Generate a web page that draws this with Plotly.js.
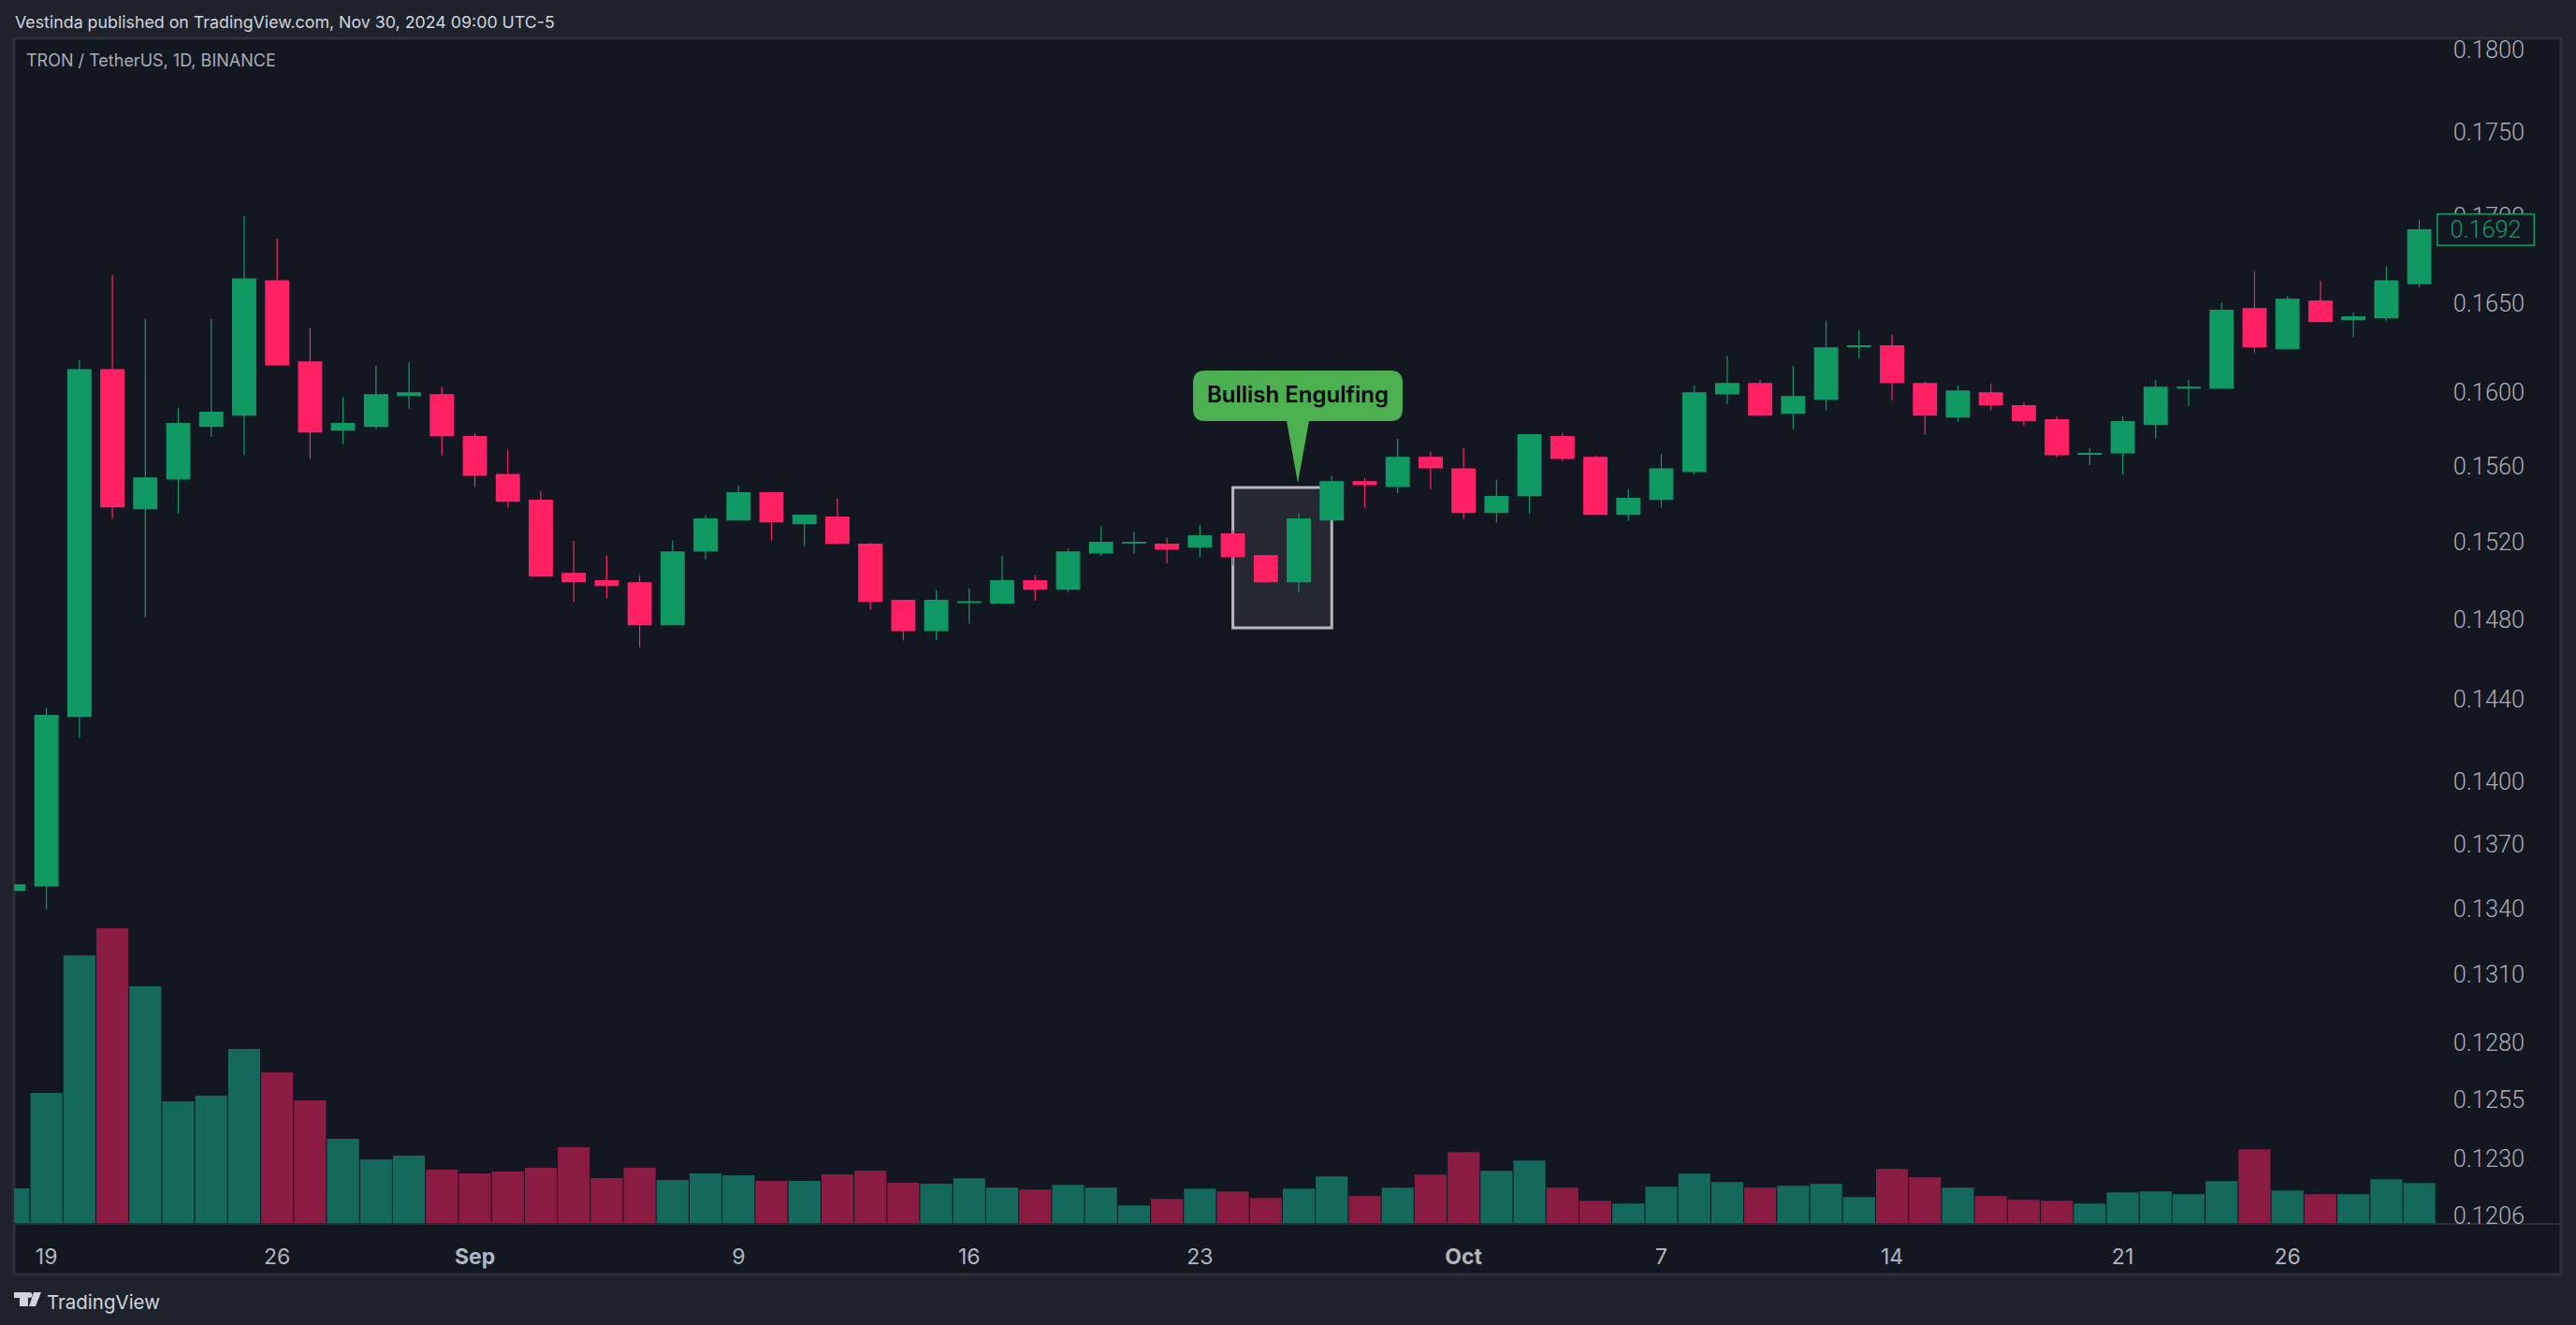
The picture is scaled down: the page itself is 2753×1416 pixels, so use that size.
<!DOCTYPE html>
<html><head><meta charset="utf-8">
<script src="https://cdn.plot.ly/plotly-3.0.1.min.js"></script>
<style>html,body{margin:0;padding:0;background:#1e222d;overflow:hidden}#c{width:2753px;height:1416px}</style>
</head><body><div id="c"></div>
<script>
const dates=['2024-08-18','2024-08-19','2024-08-20','2024-08-21','2024-08-22','2024-08-23','2024-08-24','2024-08-25','2024-08-26','2024-08-27','2024-08-28','2024-08-29','2024-08-30','2024-08-31','2024-09-01','2024-09-02','2024-09-03','2024-09-04','2024-09-05','2024-09-06','2024-09-07','2024-09-08','2024-09-09','2024-09-10','2024-09-11','2024-09-12','2024-09-13','2024-09-14','2024-09-15','2024-09-16','2024-09-17','2024-09-18','2024-09-19','2024-09-20','2024-09-21','2024-09-22','2024-09-23','2024-09-24','2024-09-25','2024-09-26','2024-09-27','2024-09-28','2024-09-29','2024-09-30','2024-10-01','2024-10-02','2024-10-03','2024-10-04','2024-10-05','2024-10-06','2024-10-07','2024-10-08','2024-10-09','2024-10-10','2024-10-11','2024-10-12','2024-10-13','2024-10-14','2024-10-15','2024-10-16','2024-10-17','2024-10-18','2024-10-19','2024-10-20','2024-10-21','2024-10-22','2024-10-23','2024-10-24','2024-10-25','2024-10-26','2024-10-27','2024-10-28','2024-10-29','2024-10-30'];
const opens=[.13484,.13506,.14315,.16126,.15374,.15532,.15815,.15876,.16626,.16168,.15795,.15815,.15983,.15988,.15759,.15556,.15419,.15036,.14998,.14988,.14773,.15152,.15315,.15458,.15295,.15330,.15187,.14897,.14744,.14886,.14883,.14998,.14955,.15142,.15194,.15187,.15172,.15241,.15128,.14993,.15315,.15517,.15492,.15647,.15586,.15354,.15443,.15759,.15647,.15344,.15423,.15571,.15993,.16049,.15886,.15963,.16254,.16258,.16049,.15866,.15998,.15927,.15851,.15664,.15672,.15825,.16025,.16024,.16468,.16242,.16510,.16405,.16416,.16610];
const highs=[.13510,.14357,.16179,.16659,.16410,.15917,.16410,.17001,.16870,.16358,.15978,.16147,.16168,.16029,.15779,.15688,.15468,.15206,.15128,.15026,.15206,.15340,.15497,.15458,.15340,.15428,.15197,.14897,.14950,.14959,.15128,.15026,.15167,.15280,.15251,.15221,.15290,.15261,.15128,.15349,.15547,.15537,.15749,.15678,.15698,.15527,.15769,.15779,.15657,.15478,.15667,.16039,.16200,.16069,.16147,.16400,.16347,.16321,.16059,.16039,.16049,.15947,.15871,.15698,.15871,.16069,.16069,.16500,.16680,.16537,.16626,.16447,.16707,.16979];
const lows=[.13484,.13398,.14209,.15320,.14811,.15349,.15759,.15657,.16147,.15637,.15718,.15800,.15912,.15657,.15487,.15379,.15022,.14888,.14907,.14658,.14773,.15108,.15310,.15206,.15177,.15187,.14849,.14696,.14696,.14778,.14878,.14897,.14940,.15128,.15137,.15088,.15118,.15079,.14988,.14940,.15315,.15379,.15458,.15478,.15320,.15300,.15349,.15627,.15344,.15310,.15379,.15556,.15937,.15871,.15800,.15901,.16189,.15957,.15769,.15840,.15901,.15820,.15647,.15606,.15556,.15749,.15927,.16024,.16221,.16237,.16395,.16310,.16400,.16589];
const closes=[.13510,.14320,.16126,.15384,.15537,.15830,.15891,.16637,.16153,.15784,.15830,.15988,.15998,.15764,.15552,.15414,.15022,.14993,.14974,.14773,.15147,.15320,.15458,.15305,.15340,.15192,.14892,.14744,.14897,.14890,.14998,.14955,.15147,.15197,.15197,.15162,.15231,.15123,.14993,.15320,.15517,.15502,.15647,.15591,.15354,.15438,.15769,.15642,.15344,.15428,.15586,.15998,.16049,.15876,.15978,.16247,.16258,.16054,.15876,.16008,.15932,.15846,.15662,.15668,.15840,.16029,.16029,.16458,.16253,.16521,.16395,.16421,.16626,.16920];
const volumes=[38,140,287,316,254,131,137,187,162,132,91,69,73,58,54,56,60,82,49,60,47,54,52,46,46,53,57,44,43,48.7,38.7,36.7,41.7,38.7,19.7,26.7,37.7,34.7,27.7,37.7,50.7,29.7,38.7,52.7,76.7,56.7,67.7,38.7,24.7,21.7,39.7,53.7,44.7,38.7,40.7,42.7,28.7,58.7,49.7,38.7,29.7,25.7,24.7,21.7,33.7,34.7,31.7,45.7,79.7,35.7,31.7,31.7,47.7,43.7];
const priceTicks=[0.18,0.175,0.17,0.165,0.16,0.156,0.152,0.148,0.144,0.14,0.137,0.134,0.131,0.128,0.1255,0.123,0.1206];
const priceLabels=['0.1800','0.1750','0.1700','0.1650','0.1600','0.1560','0.1520','0.1480','0.1440','0.1400','0.1370','0.1340','0.1310','0.1280','0.1255','0.1230','0.1206'];
const timeTicks=['2024-08-19','2024-08-26','2024-09-01','2024-09-09','2024-09-16','2024-09-23','2024-10-01','2024-10-07','2024-10-14','2024-10-21','2024-10-26'];
const timeLabels=['19','26','<b>Sep</b>','9','16','23','<b>Oct</b>','7','14','21','26'];
const lastPrice=0.1692;
const GREEN='#119964',RED='#FF2164',VGREEN='#14695C',VRED='#8A1C44';
const W=2753,H=1416;
const px=x=>x/W, py=y=>1-y/H;
const FONT='Inter, sans-serif';
const NUMFONT='Roboto, sans-serif';
const bubble=(()=>{const l=px(1275),r=px(1499),t=py(396),b=py(450),rx=px(13),ry=13/H;
 const tipL=px(1375),tipR=px(1399),tipX=px(1387),tipY=py(516);
 return `M ${l+rx} ${t} L ${r-rx} ${t} Q ${r} ${t} ${r} ${t-ry} L ${r} ${b+ry} Q ${r} ${b} ${r-rx} ${b} L ${tipR} ${b} L ${tipX} ${tipY} L ${tipL} ${b} L ${l+rx} ${b} Q ${l} ${b} ${l} ${b+ry} L ${l} ${t-ry} Q ${l} ${t} ${l+rx} ${t} Z`;})();
const logoColor='#D1D4DC';
const shapes=[
 {type:'rect',xref:'paper',yref:'paper',x0:px(15),x1:px(2737),y0:py(1362),y1:py(41),fillcolor:'#121722',line:{color:'#2A2E39',width:3},layer:'below'},
 {type:'rect',xref:'x',yref:'y',x0:dates[37],x1:dates[40],y0:0.14757,y1:0.15486,fillcolor:'#252731',line:{color:'#B9B6C3',width:3},layer:'below'},
 {type:'path',xref:'paper',yref:'paper',path:bubble,fillcolor:'#4CAF50',line:{width:0},layer:'above'},
 {type:'path',xref:'paper',yref:'paper',path:`M ${px(15)} ${py(1381)} L ${px(30)} ${py(1381)} L ${px(30)} ${py(1396)} L ${px(21)} ${py(1396)} L ${px(21)} ${py(1387)} L ${px(15)} ${py(1387)} Z`,fillcolor:logoColor,line:{width:0}},
 {type:'circle',xref:'paper',yref:'paper',x0:px(29),x1:px(34.5),y0:py(1387),y1:py(1381),fillcolor:logoColor,line:{width:0}},
 {type:'path',xref:'paper',yref:'paper',path:`M ${px(36)} ${py(1381)} L ${px(44)} ${py(1381)} L ${px(38)} ${py(1396)} L ${px(31)} ${py(1396)} Z`,fillcolor:logoColor,line:{width:0}}
];
const annotations=[
 {xref:'paper',yref:'paper',x:px(13.5),y:py(24),xanchor:'left',yanchor:'middle',showarrow:false,text:'Vestinda published on TradingView.com, Nov 30, 2024 09:00 UTC-5',font:{family:FONT,size:17.8,color:'#D1D4DC'}},
 {xref:'paper',yref:'paper',x:px(25.5),y:py(65),xanchor:'left',yanchor:'middle',showarrow:false,text:'TRON / TetherUS, 1D, BINANCE',font:{family:FONT,size:18,color:'#A9ABB5'}},
 {xref:'paper',yref:'paper',x:px(48),y:py(1391),xanchor:'left',yanchor:'middle',showarrow:false,text:'TradingView',font:{family:FONT,size:20.5,color:'#D1D4DC'}},
 {xref:'paper',yref:'paper',x:px(1387),y:py(422),xanchor:'center',yanchor:'middle',showarrow:false,text:'Bullish Engulfing',font:{family:FONT,size:24,color:'#050505',weight:600}},
 {xref:'paper',yref:'y',x:px(2656),y:Math.log10(lastPrice),xanchor:'center',yanchor:'middle',showarrow:false,text:lastPrice.toFixed(4),width:102,height:32,bgcolor:'#121722',bordercolor:GREEN,borderwidth:1.5,borderpad:0,align:'center',font:{family:NUMFONT,size:25.3,color:GREEN,weight:300}}
];
const data=[
 {type:'candlestick',x:dates,open:opens,high:highs,low:lows,close:closes,width:0.735*86400000,whiskerwidth:0,
  increasing:{line:{color:GREEN,width:1.2},fillcolor:GREEN},decreasing:{line:{color:RED,width:1.2},fillcolor:RED},hoverinfo:'skip',showlegend:false},
 {type:'bar',x:dates,y:volumes,yaxis:'y2',marker:{color:volumes.map((v,i)=>closes[i]>=opens[i]?VGREEN:VRED),line:{width:0}},hoverinfo:'skip',showlegend:false}
];
const layout={
 width:W,height:H,margin:{l:0,r:0,t:0,b:0},paper_bgcolor:'#1E222D',plot_bgcolor:'rgba(0,0,0,0)',showlegend:false,bargap:0.03,boxgap:0,
 font:{family:FONT,color:'#B2B5BE'},
 xaxis:{type:'date',domain:[px(15),px(2737)],range:['2024-08-18 00:24','2024-11-03 07:12'],rangeslider:{visible:false},
  tickmode:'array',tickvals:timeTicks,ticktext:timeLabels,ticklen:14,tickcolor:'rgba(0,0,0,0)',tickfont:{family:FONT,size:23,color:'#B2B5BE'},
  showgrid:false,zeroline:false,showline:true,linecolor:'#2A2E39',linewidth:2,automargin:false,anchor:'free',position:py(1308)},
 yaxis:{type:'log',domain:[py(1326),py(20)],range:[Math.log10(0.119556),Math.log10(0.18192)],side:'right',anchor:'x',
  tickmode:'array',tickvals:priceTicks,ticktext:priceLabels,ticklabelposition:'inside',ticklen:0,ticklabelstandoff:36,
  tickfont:{family:NUMFONT,size:25.3,color:'#ABADB8',weight:300},showgrid:false,zeroline:false,showline:false,automargin:false},
 yaxis2:{overlaying:'y',side:'left',range:[-18,1288],visible:false,showgrid:false,zeroline:false},
 shapes,annotations
};
Plotly.newPlot('c',data,layout,{displayModeBar:false,staticPlot:true});
</script></body></html>
